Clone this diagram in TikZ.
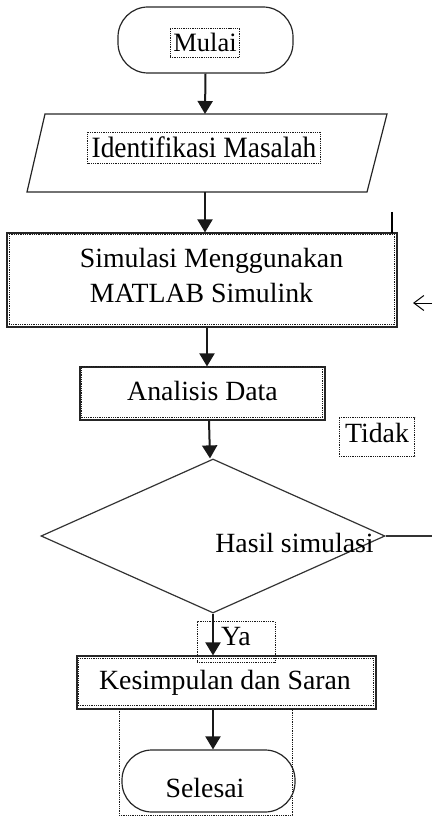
\documentclass[tikz,border=0pt]{standalone}
\usepackage{fontspec}
\setmainfont{Liberation Serif}
\usetikzlibrary{shapes.geometric,arrows.meta,calc}
\newcommand\fsz{\fontsize{27.8pt}{33pt}\selectfont}
\tikzset{
  shp/.style={draw=black!85, line width=1.2pt, inner sep=0pt},
  term/.style={shp, rounded corners=30pt},
  dotb/.style={draw=black!90, line width=1pt, dash pattern=on 1pt off 0.8pt},
  txt/.style={font=\fsz, inner sep=0pt, anchor=base, text=black},
  arr/.style={draw=black!90, line width=2pt, -{Triangle[length=13pt,width=15pt]}},
}
\begin{document}
\begin{tikzpicture}[x=1pt,y=-1pt]
\useasboundingbox (0,0) rectangle (432,818);

% shapes
\node[term, minimum width=175pt, minimum height=66pt] (mulai) at (205.5,40) {};
% parallelogram (input/output)
\coordinate (pTL) at (45,114);
\coordinate (pTR) at (387,114);
\coordinate (pBR) at (367,192);
\coordinate (pBL) at (27,192);
\coordinate (idenN) at (205,114);
\coordinate (idenS) at (205,192);
\draw[shp, line join=miter] (pTL) -- (pTR) -- (pBR) -- (pBL) -- cycle;
\node[shp, minimum width=390pt, minimum height=94pt] (sim) at (202,280) {};
\draw[dotb] ([shift={(3,2)}]sim.north west) rectangle ([shift={(-3,-3)}]sim.south east);
\node[shp, minimum width=245pt, minimum height=53pt] (ana) at (202.5,393.5) {};
\draw[dotb] ([shift={(2,0)}]ana.north west) rectangle ([shift={(-3,-3)}]ana.south east);
\node[shp, diamond, draw=black!80, minimum width=344pt, minimum height=154pt] (dec) at (213,536) {};
\node[shp, minimum width=299pt, minimum height=53pt] (kes) at (226.5,682.5) {};
\draw[dotb] ([shift={(2,3)}]kes.north west) rectangle ([shift={(-3,-4)}]kes.south east);
\node[dotb, minimum width=173pt, minimum height=106pt, inner sep=0pt] (selframe) at (205.5,762) {};
\node[term, minimum width=173pt, minimum height=62pt] (sel) at (208.5,781) {};

% texts
\node[txt, dotb, inner xsep=3.3pt, inner ysep=5pt, font=\fontsize{26.5pt}{32pt}\selectfont] (tmulai) at (205,52) {Mulai};
\node[txt, dotb, inner xsep=4pt, inner ysep=5pt] (tiden) at (204,158)
  {\scalebox{0.93}[1]{\fontsize{29.5pt}{34pt}\selectfont Identifikasi Masalah}};
\node[txt] (tsim1) at (211.5,267) {Simulasi Menggunakan};
\node[txt] (tsim2) at (201.5,302) {MATLAB Simulink};
\node[txt] (tana) at (202.5,400) {Analisis Data};
\node[txt, dotb, inner xsep=6pt, inner ysep=5pt, text depth=9pt] (ttidak) at (377,442) {Tidak};
\node[txt] (thasil) at (294.5,552) {Hasil simulasi};
\node[txt, dotb, minimum width=78pt, inner ysep=5pt, text depth=12pt] (tya) at (236,645) {Ya};
\node[txt] (tkes) at (225,689) {Kesimpulan dan Saran};
\node[txt] (tsel) at (205,797) {Selesai};

% connectors
\draw[arr] (mulai.south) -- (idenN);
\draw[arr] (idenS) -- ($(sim.north)+(3,0)$);
\draw[arr] ($(sim.south)+(5,0)$) -- ($(ana.north)+(4.5,0)$);
\draw[arr] ($(ana.south)+(6.5,0)$) -- ($(dec.north)+(-3,0)$);
\draw[arr] (dec.south) -- (dec.south |- kes.north);
\draw[arr] (kes.south -| dec.south) -- (dec.south |- sel.north);

\coordinate (fbR) at (432,536);
\draw[draw=black!80, line width=1.2pt] (dec.east) -- (fbR);
\coordinate (fbA) at (432,303);
\coordinate (fbT) at (413,303);
\draw[line width=1pt, -{Straight Barb[length=10pt,width=15pt]}] (fbA) -- (fbT);
\coordinate (stubT) at (392,212);
\coordinate (stubB) at (392,233);
\draw[line width=2pt] (stubT) -- (stubB);
\end{tikzpicture}
\end{document}
